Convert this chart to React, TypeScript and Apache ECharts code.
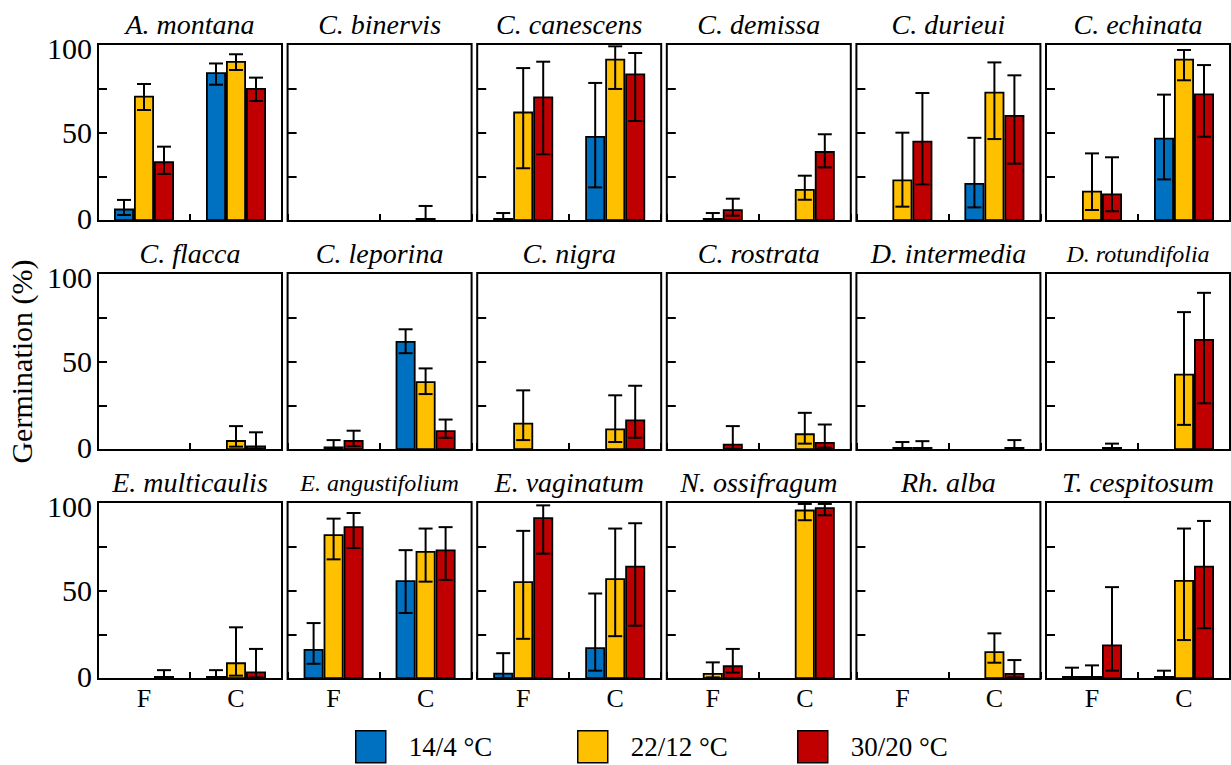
import React, { useEffect, useRef } from 'react';
import * as echarts from 'echarts';

const species = [
  'A. montana', 'C. binervis', 'C. canescens', 'C. demissa', 'C. durieui', 'C. echinata',
  'C. flacca', 'C. leporina', 'C. nigra', 'C. rostrata', 'D. intermedia', 'D. rotundifolia',
  'E. multicaulis', 'E. angustifolium', 'E. vaginatum', 'N. ossifragum', 'Rh. alba', 'T. cespitosum',
];
const conditions = ['F', 'C'];
const temps = ['14/4 °C', '22/12 °C', '30/20 °C'];
const yTicks = [0, 50, 100];

// [F, C] per species
const mean14 = [[7, 84], [0, 0], [0.5, 48], [0, 0], [0, 21.5], [0, 47], [0, 0], [0, 61.6], [0, 0], [0, 0], [0, 0], [0, 0], [0, 0.5], [17, 55.8], [3.6, 18], [0, 0], [0, 0], [0.5, 0.5]];
const lo14 = [[3.4, 77], [0, 0], [0, 19], [0, 0], [0, 7.7], [0, 23.5], [0, 0], [0, 54.7], [0, 0], [0, 0], [0, 0], [0, 0], [0, 0], [8.6, 37.3], [0.2, 4.7], [0, 0], [0, 0], [0, 0]];
const hi14 = [[11.9, 89], [0, 0], [4.5, 78], [0, 0], [0, 47], [0, 71.4], [0, 0], [0, 68.2], [0, 0], [0, 0], [0, 0], [0, 0], [0, 5], [31.6, 72.8], [14.6, 48.3], [0, 0], [0, 0], [6.4, 4.7]];

const mean22 = [[70.8, 90.4], [0, 1.5], [61.8, 91.7], [0.4, 18.1], [23.5, 73], [17.1, 91.7], [0, 5.6], [2, 38.8], [15.4, 12.2], [0, 9.4], [0.5, 0], [0, 43.1], [0, 9.4], [81.8, 72.3], [55.2, 56.9], [3.4, 95.7], [0, 15.7], [0.5, 56]];
const lo22 = [[62.7, 85.3], [0, 0], [29.8, 74.6], [0, 12], [8.1, 46.3], [6.2, 79.5], [0, 1.9], [0.4, 31.6], [5.6, 4.5], [0, 3.6], [0, 0], [0, 14.2], [0, 1.9], [67.6, 55], [22.7, 24.2], [0.9, 89.7], [0, 9.2], [0, 22]];
const hi22 = [[77.4, 94.2], [0, 8.5], [86.4, 98.7], [4.5, 25.6], [49.9, 89.6], [38.2, 96.6], [0, 13.5], [5.6, 46.1], [33.7, 30.9], [0, 21], [4.5, 0], [0, 77.9], [0, 29.2], [90.6, 85], [83.7, 85], [9.4, 98.9], [0, 25.8], [7.7, 85]];

const mean30 = [[33.7, 75.1], [0, 0], [70.4, 83.4], [6.6, 39.5], [45.4, 59.9], [15.6, 72.1], [0, 2.6], [5.6, 11.2], [0, 17.2], [3.6, 4.5], [1, 1.5], [0.3, 62.7], [0.5, 4.3], [86.3, 73.2], [91.4, 64], [7.7, 97], [0, 3.4], [19.5, 64]];
const lo30 = [[26.6, 67.8], [0, 0], [37.7, 56.5], [3, 30.3], [20.7, 32.4], [5.5, 47.6], [0, 0.7], [2.2, 6.9], [0, 6.9], [0.7, 1.3], [0.2, 0.3], [0, 26.4], [0, 0.9], [74, 56], [70.8, 30.1], [3.6, 92.5], [0, 0.9], [4.7, 28.7]];
const hi30 = [[42, 81], [0, 0], [90, 94.9], [12.6, 49], [72.3, 82.3], [36, 88.1], [0, 10], [10.9, 17.2], [0, 36.3], [13.5, 14.4], [5, 5.6], [3.6, 88.8], [5, 17], [93.8, 85.8], [98.1, 88], [17, 98.9], [0, 10.7], [51.9, 89.3]];

const means = [mean14, mean22, mean30];
const lows = [lo14, lo22, lo30];
const highs = [hi14, hi22, hi30];

const COLORS = ['#0070C0', '#FFC000', '#C00000'];
const FONT = 'Liberation Serif';
const LEFT0 = 98;
const STEP = 189.6;
const PW = 184;
const ROW_TOPS = [44, 273, 502];
const PH = 177;
const BAR_W = 20;
const CAP = 7;

function buildOption() {
  const grid: any[] = [];
  const xAxis: any[] = [];
  const yAxis: any[] = [];
  const title: any[] = [];
  const series: any[] = [];

  species.forEach((name, i) => {
    const r = Math.floor(i / 6);
    const c = i % 6;
    const left = LEFT0 + c * STEP;
    grid.push({
      left, top: ROW_TOPS[r], width: PW, height: PH,
      show: true, borderColor: '#000', borderWidth: 2, backgroundColor: 'transparent',
    });
    xAxis.push({
      type: 'category', data: conditions, gridIndex: i, boundaryGap: true,
      axisLine: { show: false },
      axisTick: { show: true, inside: true, length: 7, lineStyle: { color: '#000', width: 2 } },
      axisLabel: { show: r === 2, fontSize: 26, fontFamily: FONT, color: '#000', margin: 6 },
      splitLine: { show: false },
    });
    const y: any = {
      type: 'value', min: 0, max: 100, interval: 25, gridIndex: i,
      axisLine: { show: false },
      axisTick: { show: true, inside: true, length: 9, lineStyle: { color: '#000', width: 2 } },
      axisLabel: {
        show: c === 0, fontSize: 30, fontFamily: FONT, color: '#000', margin: 6,
        formatter: (v: number) => {
          if (!yTicks.includes(v)) return '';
          if (v === 100) return '{hi|' + v + '}';
          if (v === 0) return '{lo|' + v + '}';
          return String(v);
        },
        rich: {
          hi: { fontSize: 30, fontFamily: FONT, color: '#000', padding: [8, 0, 0, 0] },
          lo: { fontSize: 30, fontFamily: FONT, color: '#000', padding: [0, 0, 6, 0] },
        },
      },
      splitLine: { show: false },
    };
    if (i === 6) {
      y.name = 'Germination (%)';
      y.nameLocation = 'middle';
      y.nameRotate = 90;
      y.nameGap = 62;
      y.nameTextStyle = { fontSize: 30, fontFamily: FONT, color: '#000' };
    }
    yAxis.push(y);
    const long = name.length > 14;
    title.push({
      text: name, left: left + PW / 2, top: ROW_TOPS[r] - (long ? 31 : 34), textAlign: 'center', padding: 0,
      textStyle: { fontFamily: FONT, fontStyle: 'italic', fontWeight: 'normal', fontSize: long ? 24 : 28, color: '#000' },
    });

    temps.forEach((t, k) => {
      series.push({
        type: 'bar', name: t, xAxisIndex: i, yAxisIndex: i,
        barWidth: BAR_W, barGap: '0%', barMinHeight: 3, silent: true,
        itemStyle: { color: COLORS[k], borderColor: '#000', borderWidth: 1.8 },
        data: means[k][i].map((v) => (v > 0 ? v : null)),
      });
    });

    const errData: any[] = [];
    temps.forEach((_, k) => {
      conditions.forEach((_, ci) => {
        if (highs[k][i][ci] > 0) errData.push([ci, k, lows[k][i][ci], highs[k][i][ci]]);
      });
    });
    series.push({
      type: 'custom', xAxisIndex: i, yAxisIndex: i, z: 5, silent: true,
      encode: { x: 0, y: [2, 3] },
      data: errData,
      renderItem: (params: any, api: any) => {
        const ci = api.value(0);
        const k = api.value(1);
        const lo = api.value(2);
        const hi = api.value(3);
        const x = api.coord([ci, 0])[0] + (k - 1) * BAR_W;
        const yLo = api.coord([ci, lo])[1];
        const yHi = api.coord([ci, hi])[1];
        const st = { stroke: '#000', lineWidth: 2 };
        return {
          type: 'group',
          children: [
            { type: 'line', shape: { x1: x, y1: yLo, x2: x, y2: yHi }, style: st },
            { type: 'line', shape: { x1: x - CAP, y1: yHi, x2: x + CAP, y2: yHi }, style: st },
            { type: 'line', shape: { x1: x - CAP, y1: yLo, x2: x + CAP, y2: yLo }, style: st },
          ],
        };
      },
    });
  });

  const legendLefts = [355, 577, 797];
  const legend = temps.map((t, k) => ({
    data: [t], left: legendLefts[k], top: 730, padding: 0,
    itemWidth: 30, itemHeight: 32, selectedMode: false, icon: 'rect',
    itemStyle: { borderColor: '#000', borderWidth: 1.5 },
    textStyle: { fontFamily: FONT, fontSize: 27, color: '#000', padding: [0, 0, 0, 18] },
  }));

  return {
    animation: false,
    backgroundColor: '#fff',
    textStyle: { fontFamily: FONT },
    grid, xAxis, yAxis, title, series, legend,
  };
}

export default function App() {
  const ref = useRef<HTMLDivElement>(null);
  useEffect(() => {
    const chart = echarts.init(ref.current!, null, { renderer: 'svg' });
    chart.setOption(buildOption() as any);
    return () => chart.dispose();
  }, []);
  return (
    <div
      ref={ref}
      style={{ position: 'absolute', left: 0, top: 0, width: 1231, height: 765 }}
    />
  );
}
